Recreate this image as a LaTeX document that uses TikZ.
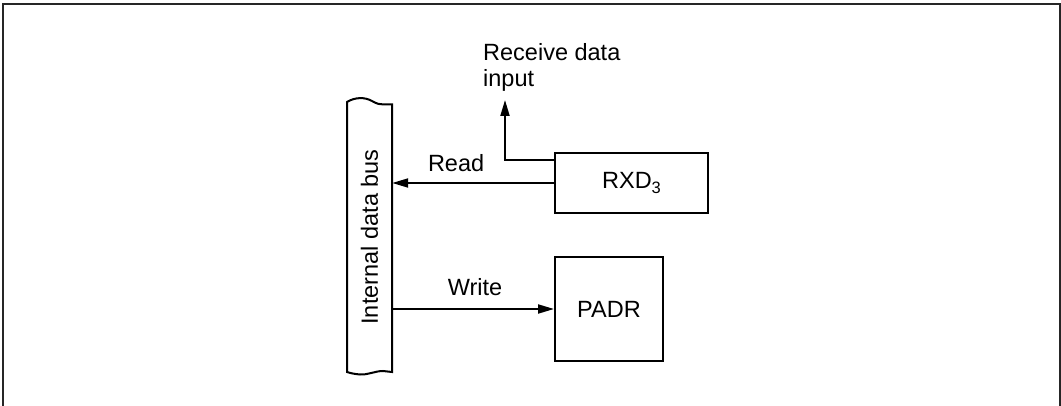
\documentclass[tikz,border=0pt]{standalone}
\usepackage{fontspec}
\setmainfont{Liberation Sans}
\usetikzlibrary{arrows.meta}
\begin{document}
\begin{tikzpicture}[x=1pt,y=-1pt,
  lbl/.style={font=\fontsize{23.5}{26}\selectfont, inner sep=0pt},
  blk/.style={draw, line width=2pt, inner sep=0pt, font=\fontsize{23.5}{26}\selectfont},
  arr/.style={line width=2pt, -{Triangle[length=16pt,width=9pt]}}]
\useasboundingbox (0,0) rectangle (1061,406);
\draw[line width=1.6pt, black!85] (3,407) -- (3,4) -- (1060,4) -- (1060,407);
% bus
\node[inner sep=0pt, minimum width=45pt, minimum height=270pt] (bus) at (369.5,237) {};
\draw[line width=2pt] (347,102) .. controls (355,97) and (365,97) .. (372,101)
  .. controls (377,104) and (380,104.5) .. (384,104.5) -- (392,104.5) -- (392,372)
  -- (383,371) .. controls (375,371) and (368,375) .. (360,374.5)
  .. controls (354,374) and (350,373) .. (347,372) -- cycle;
\node[lbl, rotate=90] (buslbl) at (bus.center) {Internal data bus};
% blocks
\node[blk, minimum width=153pt, minimum height=60pt] (rxd) at (631.5,183) {RXD\raisebox{-0.35ex}{\fontsize{16.5}{16.5}\selectfont 3}};
\node[blk, minimum width=108pt, minimum height=104pt] (padr) at (609,309) {PADR};
% connectors
\draw[arr] (rxd.west) -- (rxd.west -| bus.east) node[lbl, midway, yshift=20pt, xshift=-17pt] (rd) {Read};
\draw[arr] (padr.west -| bus.east) -- (padr.west) node[lbl, midway, yshift=22pt, xshift=2pt] (wr) {Write};
\coordinate (rin) at (505,100);
\draw[arr] ([yshift=-8pt]rxd.north west) -| (rin);
\node[lbl, anchor=north west, align=left] (rcv) at (483,43) {Receive data\\input};
\end{tikzpicture}
\end{document}
